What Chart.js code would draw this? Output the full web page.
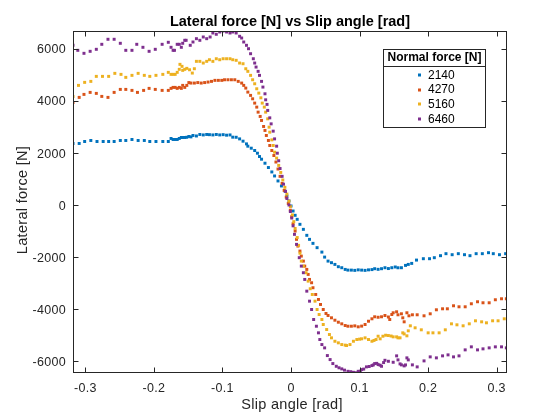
<!DOCTYPE html>
<html>
<head>
  <title>Lateral force vs Slip angle</title>
  <script src="https://cdn.jsdelivr.net/npm/chart.js"></script>
  <style>
    body { margin: 0; background: #fff; }
    #wrap { width: 560px; height: 420px; }
  </style>
</head>
<body>
  <div id="wrap"><canvas id="tyreChart" width="560" height="420"></canvas></div>

  <script>
    // --- data ---
    const normalForces = ['2140', '4270', '5160', '6460'];
    const legendTitle = 'Normal force [N]';
    const xTicks = [-0.3, -0.2, -0.1, 0, 0.1, 0.2, 0.3];
    const yTicks = [-6000, -4000, -2000, 0, 2000, 4000, 6000];

    const slip2140 = [
      -0.318, -0.309, -0.301, -0.292, -0.283, -0.274, -0.266, -0.258, -0.249, -0.241,
      -0.232, -0.223, -0.214, -0.206, -0.197, -0.187, -0.179,
      -0.175, -0.172, -0.169, -0.166, -0.163, -0.160, -0.158, -0.155, -0.152, -0.149,
      -0.146, -0.143, -0.138, -0.133, -0.128, -0.123, -0.119, -0.114, -0.109, -0.104,
      -0.099, -0.094, -0.089, -0.085, -0.080, -0.075, -0.070, -0.065, -0.063, -0.058,
      -0.053, -0.049, -0.046, -0.043, -0.038, -0.033, -0.028, -0.024, -0.019, -0.014,
      -0.009, -0.006, -0.003, 0.000, 0.003, 0.006, 0.009, 0.013, 0.018, 0.023,
      0.027, 0.032, 0.038, 0.045, 0.049, 0.054, 0.059, 0.064, 0.069, 0.074,
      0.079, 0.083, 0.088, 0.093, 0.098, 0.103, 0.108, 0.113, 0.118, 0.122,
      0.127, 0.132, 0.137, 0.142, 0.147, 0.152, 0.156, 0.161, 0.167, 0.171,
      0.176,
      0.183, 0.193, 0.202, 0.209, 0.218, 0.226, 0.235, 0.244, 0.253, 0.261,
      0.270, 0.279, 0.288, 0.295, 0.304, 0.313
    ];
    const force2140 = [
      2362, 2362, 2438, 2477, 2438, 2438, 2438, 2438, 2477, 2477,
      2515, 2477, 2477, 2438, 2438, 2438, 2438,
      2554, 2515, 2515, 2515, 2554, 2592, 2592, 2592, 2600, 2631,
      2615, 2669, 2650, 2708, 2690, 2708, 2700, 2690, 2708, 2690,
      2700, 2680, 2690, 2604, 2600, 2538, 2450, 2346, 2258, 2181,
      2092, 1988, 1861, 1758, 1604, 1438, 1269, 1115, 923, 731,
      538, 346, 154, -38, -231, -396, -550, -742, -935, -1165,
      -1319, -1473, -1638, -1808, -2000, -2154, -2215, -2281, -2369, -2408,
      -2473, -2500, -2500, -2510, -2490, -2500, -2510, -2490, -2480, -2446,
      -2470, -2446, -2408, -2440, -2408, -2380, -2410, -2408, -2319, -2281,
      -2242,
      -2115, -2062, -2062, -2023, -1946, -1869, -1908, -1869, -1908, -1946,
      -1869, -1869, -1831, -1869, -1908, -1869
    ];

    const slip4270 = [
      -0.318, -0.309, -0.302, -0.293, -0.284, -0.276, -0.267, -0.258, -0.249, -0.241,
      -0.232, -0.224, -0.215, -0.207, -0.198, -0.188, -0.179,
      -0.175, -0.172, -0.169, -0.166, -0.163, -0.160, -0.158, -0.155, -0.152, -0.149,
      -0.146, -0.141, -0.136, -0.131, -0.126, -0.121, -0.116, -0.111, -0.106, -0.101,
      -0.097, -0.092, -0.087, -0.082, -0.077, -0.072, -0.069, -0.066, -0.063, -0.059,
      -0.056, -0.053, -0.050, -0.048, -0.045, -0.043, -0.040, -0.038, -0.036, -0.033,
      -0.031, -0.028, -0.025, -0.022, -0.019, -0.016, -0.013, -0.010, -0.007, -0.004,
      -0.001, 0.001, 0.003, 0.006, 0.008, 0.010, 0.013, 0.015, 0.018, 0.020,
      0.023, 0.025, 0.027, 0.030, 0.032, 0.036, 0.040, 0.043, 0.047, 0.051,
      0.054, 0.059, 0.064, 0.069, 0.074, 0.079, 0.083, 0.088, 0.093, 0.098,
      0.103, 0.108, 0.113, 0.118, 0.122, 0.127, 0.132, 0.137, 0.142, 0.144,
      0.147, 0.149, 0.154, 0.156, 0.161, 0.163, 0.165, 0.169, 0.172, 0.177,
      0.184, 0.194, 0.203, 0.212, 0.221, 0.228, 0.237, 0.245, 0.254, 0.263,
      0.272, 0.280, 0.289, 0.298, 0.307, 0.314
    ];
    const force4270 = [
      3938, 4131, 4246, 4323, 4285, 4169, 4131, 4323, 4438, 4438,
      4400, 4323, 4400, 4477, 4438, 4400, 4400,
      4477, 4515, 4515, 4477, 4515, 4477, 4592, 4515, 4592, 4700,
      4681, 4681, 4700, 4681, 4700, 4720, 4746, 4785, 4785, 4785,
      4808, 4808, 4808, 4808, 4746, 4681, 4592, 4488, 4335, 4208,
      4077, 3912, 3758, 3565, 3400, 3246, 3015, 2862, 2669, 2477,
      2285, 2092, 1900, 1650, 1380, 1100, 830, 560, 300, 60,
      -200, -450, -720, -1000, -1319, -1577, -1769, -1962, -2154, -2346,
      -2473, -2665, -2858, -2985, -3177, -3435, -3627, -3819, -4012, -4165,
      -4242, -4331, -4423, -4500, -4562, -4627, -4654, -4654, -4640, -4677,
      -4650, -4588, -4462, -4369, -4292, -4310, -4292, -4242, -4300, -4396,
      -4204, -4138, -4100, -4215, -4177, -4331, -4485, -4138, -4254, -4215,
      -4215, -4254, -4177, -4023, -3985, -3985, -3869, -3908, -3908, -3792,
      -3715, -3754, -3754, -3638, -3600, -3600
    ];

    const slip5160 = [
      -0.318, -0.310, -0.301, -0.292, -0.284, -0.275, -0.266, -0.257, -0.248, -0.241,
      -0.232, -0.223, -0.214, -0.206, -0.197, -0.187, -0.179,
      -0.175, -0.172, -0.169, -0.166, -0.163, -0.162, -0.159, -0.158, -0.155, -0.152,
      -0.148, -0.144, -0.141, -0.138, -0.133, -0.128, -0.123, -0.119, -0.114, -0.109,
      -0.104, -0.099, -0.094, -0.089, -0.085, -0.080, -0.075, -0.070, -0.066, -0.063,
      -0.059, -0.056, -0.053, -0.050, -0.047, -0.044, -0.042, -0.039, -0.037, -0.034,
      -0.032, -0.031, -0.028, -0.026, -0.024, -0.021, -0.018, -0.015, -0.012, -0.009,
      -0.006, -0.003, -0.001, 0.002, 0.004, 0.006, 0.009, 0.011, 0.013, 0.015,
      0.018, 0.022, 0.025, 0.028, 0.031, 0.035, 0.038, 0.041, 0.045, 0.047,
      0.052, 0.056, 0.059, 0.064, 0.069, 0.074, 0.079, 0.081, 0.086, 0.091,
      0.096, 0.100, 0.103, 0.108, 0.113, 0.118, 0.121, 0.124, 0.127, 0.130,
      0.134, 0.138, 0.142, 0.146, 0.149, 0.154, 0.156, 0.159, 0.163, 0.165,
      0.169, 0.171, 0.174,
      0.181, 0.190, 0.200, 0.207, 0.216, 0.225, 0.234, 0.242, 0.251, 0.260,
      0.269, 0.278, 0.285, 0.294, 0.302, 0.311
    ];
    const force5160 = [
      4169, 4592, 4708, 4746, 4938, 4938, 4938, 5054, 5015, 4900,
      4977, 5054, 4977, 4938, 4977, 5015, 5092,
      5015, 5015, 5015, 5092, 5208, 5400, 5323, 5169, 5208, 5246,
      5192, 5065, 5231, 5515, 5515, 5450, 5515, 5577, 5515, 5615,
      5577, 5615, 5615, 5615, 5577, 5554, 5450, 5423, 5231, 5131,
      4977, 4808, 4654, 4462, 4296, 4115, 3912, 3758, 3565, 3308,
      2988, 2796, 2500, 2285, 2027, 1800, 1520, 1250, 960, 680,
      420, 150, -60, -380, -640, -900, -1250, -1550, -1850, -2154,
      -2346, -2600, -2923, -3215, -3435, -3692, -4012, -4204, -4396, -4588,
      -4781, -4973, -5100, -5231, -5292, -5358, -5380, -5396, -5358, -5231,
      -5165, -5150, -5138, -5100, -5165, -5231, -5200, -5165, -5038, -5138,
      -5038, -5000, -5012, -5030, -5062, -5062, -5100, -5100, -4908, -4950,
      -5023, -4831, -4638,
      -4715, -4792, -4908, -4908, -4908, -4792, -4562, -4600, -4638, -4562,
      -4446, -4485, -4523, -4446, -4446, -4369
    ];

    const slip6460 = [
      -0.318, -0.311, -0.302, -0.293, -0.284, -0.276, -0.267, -0.258, -0.249, -0.241,
      -0.232, -0.225, -0.216, -0.207, -0.198, -0.188, -0.179,
      -0.175, -0.172, -0.170, -0.166, -0.163, -0.160, -0.158, -0.155, -0.153, -0.147,
      -0.143, -0.138, -0.133, -0.128, -0.123, -0.118, -0.114, -0.109, -0.104, -0.099,
      -0.094, -0.089, -0.085, -0.080, -0.075, -0.072, -0.069, -0.065, -0.062, -0.059,
      -0.055, -0.053, -0.051, -0.048, -0.046, -0.043, -0.041, -0.038, -0.037, -0.035,
      -0.034, -0.031, -0.029, -0.026, -0.024, -0.021, -0.020, -0.018, -0.016, -0.013,
      -0.011, -0.008, -0.006, -0.003, -0.001, 0.001, 0.003, 0.005, 0.008, 0.012,
      0.015, 0.018, 0.020, 0.023, 0.027, 0.030, 0.033, 0.037, 0.040, 0.042,
      0.045, 0.049, 0.053, 0.057, 0.061, 0.066, 0.070, 0.074, 0.078, 0.083,
      0.087, 0.091, 0.094, 0.098, 0.101, 0.103, 0.106, 0.110, 0.114, 0.118,
      0.120, 0.122, 0.125, 0.127, 0.130, 0.132, 0.135, 0.137, 0.142, 0.149,
      0.154, 0.156, 0.159, 0.161, 0.165, 0.167, 0.169, 0.171, 0.177,
      0.184, 0.194, 0.203, 0.212, 0.221, 0.229, 0.237, 0.245, 0.254, 0.263,
      0.272, 0.280, 0.289, 0.298, 0.307, 0.314
    ];
    const force6460 = [
      6131, 5938, 5823, 5900, 5977, 6169, 6362, 6362, 6208, 5938,
      5938, 6169, 6054, 5900, 5977, 6169, 6246,
      6054, 5938, 5938, 6169, 6169, 6054, 6208, 6323, 6323, 6131,
      6258, 6385, 6323, 6450, 6385, 6450, 6604, 6554, 6642, 6680,
      6642, 6604, 6642, 6604, 6477, 6411, 6258, 6131, 6000, 5808,
      5615, 5450, 5296, 5131, 4977, 4746, 4527, 4269, 4038, 3862,
      3631, 3346, 3115, 2835, 2538, 2258, 1988, 1700, 1400, 1100,
      800, 520, 250, 0, -250, -500, -800, -1127, -1512, -2023,
      -2346, -2600, -2858, -3308, -3692, -4012, -4396, -4654, -4908, -5165,
      -5358, -5485, -5781, -5935, -6088, -6192, -6250, -6292, -6340, -6385,
      -6400, -6423, -6440, -6385, -6380, -6319, -6300, -6215, -6200, -6165,
      -6140, -6088, -6080, -6127, -6150, -6192, -6050, -5962, -6000, -6038,
      -5792, -5946, -6100, -6138, -6177, -6140, -5869, -5946, -6138,
      -6215, -5985, -5831, -5869, -5792, -5754, -5831, -5792, -5562, -5446,
      -5562, -5523, -5485, -5446, -5446, -5485
    ];

    const seriesSlip = [slip2140, slip4270, slip5160, slip6460];
    const seriesForce = [force2140, force4270, force5160, force6460];
    const colors = ['#0072BD', '#D95319', '#EDB120', '#7E2F8E'];

    const FONT = '"Liberation Sans", Arial, Helvetica, sans-serif';
    const AXIS_COLOR = '#262626';

    function spaced(ctx, px) {
      if ('letterSpacing' in ctx) ctx.letterSpacing = px + 'px';
    }

    // axes box, inward ticks, tick labels, titles and legend box (MATLAB look)
    const matlabAxes = {
      id: 'matlabAxes',
      afterDatasetsDraw(chart) {
        const { ctx, chartArea: a, scales } = chart;
        const L = Math.round(a.left) + 0.5, R = Math.round(a.right) - 0.5;
        const T = Math.round(a.top) + 0.5, B = Math.round(a.bottom) - 0.5;
        ctx.save();
        ctx.strokeStyle = AXIS_COLOR;
        ctx.lineWidth = 1;
        ctx.strokeRect(L, T, R - L, B - T);

        ctx.beginPath();
        xTicks.forEach(v => {
          const px = Math.round(scales.x.getPixelForValue(v)) + 0.5;
          ctx.moveTo(px, B); ctx.lineTo(px, B - 5);
          ctx.moveTo(px, T); ctx.lineTo(px, T + 5);
        });
        yTicks.forEach(v => {
          const py = Math.round(scales.y.getPixelForValue(v)) + 0.5;
          ctx.moveTo(L, py); ctx.lineTo(L + 5, py);
          ctx.moveTo(R, py); ctx.lineTo(R - 5, py);
        });
        ctx.stroke();

        // tick labels
        ctx.fillStyle = AXIS_COLOR;
        ctx.font = '12.5px ' + FONT;
        spaced(ctx, 0.3);
        ctx.textBaseline = 'alphabetic';
        ctx.textAlign = 'center';
        xTicks.forEach(v => {
          ctx.fillText(String(v), scales.x.getPixelForValue(v), 392);
        });
        ctx.textAlign = 'right';
        yTicks.forEach(v => {
          ctx.fillText(String(v), 66, scales.y.getPixelForValue(v) + 4.6);
        });

        // title
        ctx.fillStyle = '#000';
        ctx.textAlign = 'center';
        ctx.font = 'bold 14.5px ' + FONT;
        spaced(ctx, 0);
        ctx.fillText('Lateral force [N] vs Slip angle [rad]', (a.left + a.right) / 2, 26);

        // axis labels
        ctx.fillStyle = AXIS_COLOR;
        ctx.font = '14.5px ' + FONT;
        spaced(ctx, 0.3);
        ctx.fillText('Slip angle [rad]', 292, 408.5);
        ctx.save();
        ctx.translate(27, 200);
        ctx.rotate(-Math.PI / 2);
        ctx.fillText('Lateral force [N]', 0, 0);
        ctx.restore();
        spaced(ctx, 0);

        // legend
        const lx = 383.5, ly = 49.5, lw = 102, lh = 78;
        ctx.fillStyle = '#fff';
        ctx.fillRect(lx, ly, lw, lh);
        ctx.strokeStyle = '#262626';
        ctx.strokeRect(lx, ly, lw, lh);
        ctx.beginPath();
        ctx.moveTo(lx, 66.5); ctx.lineTo(lx + lw, 66.5);
        ctx.stroke();
        ctx.fillStyle = '#000';
        ctx.font = 'bold 12px ' + FONT;
        ctx.textBaseline = 'middle';
        ctx.fillText(legendTitle, lx + lw / 2, 58);
        ctx.font = '12px ' + FONT;
        ctx.textAlign = 'left';
        normalForces.forEach((lbl, i) => {
          const yy = 75 + i * 14.6;
          ctx.fillStyle = colors[i];
          ctx.fillRect(418, Math.round(yy) - 1.5, 3, 3);
          ctx.fillStyle = '#000';
          ctx.fillText(lbl, 428, yy + 0.5);
        });
        ctx.restore();
      }
    };

    const datasets = normalForces.map((lbl, i) => ({
      label: lbl,
      data: seriesSlip[i].map((x, j) => ({ x: x, y: seriesForce[i][j] })),
      showLine: false,
      pointStyle: 'rect',
      pointRadius: 2.1,
      pointBorderWidth: 0,
      backgroundColor: colors[i],
      borderColor: colors[i],
      order: normalForces.length - i
    }));

    new Chart(document.getElementById('tyreChart'), {
      type: 'scatter',
      data: { datasets: datasets },
      options: {
        responsive: false,
        animation: false,
        events: [],
        layout: { padding: { left: 0, right: 53, top: 31, bottom: 0 } },
        plugins: {
          legend: { display: false },
          tooltip: { enabled: false },
          title: { display: false }
        },
        scales: {
          x: {
            type: 'linear',
            min: -0.318,
            max: 0.315,
            afterBuildTicks: s => { s.ticks = xTicks.map(v => ({ value: v })); },
            afterFit: s => { s.height = 47; },
            grid: { display: false, drawTicks: false },
            border: { display: false },
            ticks: { display: false }
          },
          y: {
            type: 'linear',
            min: -6450,
            max: 6680,
            afterBuildTicks: s => { s.ticks = yTicks.map(v => ({ value: v })); },
            afterFit: s => { s.width = 73; },
            grid: { display: false, drawTicks: false },
            border: { display: false },
            ticks: { display: false }
          }
        }
      },
      plugins: [matlabAxes]
    });
  </script>
</body>
</html>
